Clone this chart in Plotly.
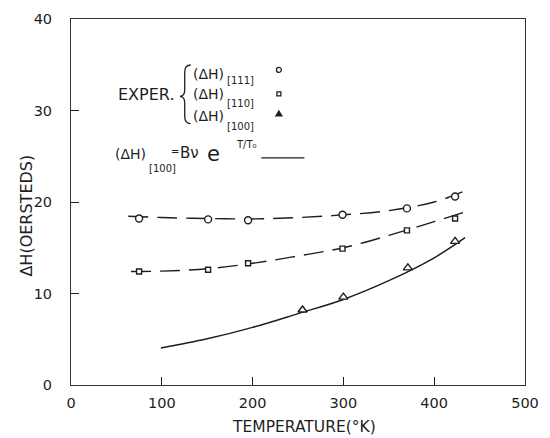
import plotly.graph_objects as go

# ---- data ----
T_pts = [75, 151, 195, 299, 370, 423]
dH_111 = [18.2, 18.1, 18.0, 18.6, 19.3, 20.6]
dH_110 = [12.4, 12.6, 13.3, 14.9, 16.9, 18.2]
T_100 = [255, 300, 371, 423]
dH_100 = [8.2, 9.6, 12.8, 15.7]

T_fit111 = [63, 100, 150, 200, 250, 300, 350, 400, 431]
fit111 = [18.45, 18.3, 18.2, 18.15, 18.3, 18.6, 19.05, 20.0, 21.1]
T_fit110 = [66, 100, 150, 200, 250, 300, 350, 400, 440]
fit110 = [12.4, 12.45, 12.7, 13.3, 14.1, 15.0, 16.35, 17.85, 19.1]
T_fit100 = [99, 150, 200, 250, 300, 350, 400, 434]
fit100 = [4.05, 5.05, 6.3, 7.8, 9.35, 11.4, 13.9, 16.1]

x_ticks = [0, 100, 200, 300, 400, 500]
y_ticks = [0, 10, 20, 30, 40]

INK = "#1e1e1e"
FONT = "DejaVu Sans"

# plot area in pixels (for placing decorations)
L, R, T, B = 71, 534, 11, 385
W, H = 550, 438


def px(x):
    return (x - L) / (R - L)


def py(y):
    return (B - y) / (B - T)


fig = go.Figure()

dash = "20px,9px"
fig.add_trace(go.Scatter(x=T_fit111, y=fit111, mode="lines",
                         line=dict(color=INK, width=1.4, dash=dash, shape="spline"),
                         hoverinfo="skip"))
fig.add_trace(go.Scatter(x=T_fit110, y=fit110, mode="lines",
                         line=dict(color=INK, width=1.4, dash=dash, shape="spline"),
                         hoverinfo="skip"))
fig.add_trace(go.Scatter(x=T_fit100, y=fit100, mode="lines",
                         line=dict(color=INK, width=1.5, shape="spline"),
                         hoverinfo="skip"))

fig.add_trace(go.Scatter(x=T_pts, y=dH_111, mode="markers",
                         marker=dict(symbol="circle", size=7, color="white",
                                     line=dict(color=INK, width=1.4))))
fig.add_trace(go.Scatter(x=T_pts, y=dH_110, mode="markers",
                         marker=dict(symbol="square", size=5, color="white",
                                     line=dict(color=INK, width=1.4))))
fig.add_trace(go.Scatter(x=T_100, y=dH_100, mode="markers",
                         marker=dict(symbol="triangle-up", size=8, color="white",
                                     line=dict(color=INK, width=1.4))))

ann = []


def text(t, x, y, size=14, xanchor="left", angle=0):
    ann.append(dict(text=t, x=px(x), y=py(y), xref="paper", yref="paper",
                    xanchor=xanchor, yanchor="middle", showarrow=False,
                    textangle=angle, font=dict(family=FONT, size=size, color=INK)))


# legend block
text("EXPER.", 117, 88, 16)
rows = [(67, 74, "[111]"), (88, 97, "[110]"), (110, 121, "[100]")]
for yr, ys, sub in rows:
    text("(ΔH)", 193, yr, 14)
    text(sub, 228, ys, 10)

# formula
text("(ΔH)", 114, 149, 14)
text("[100]", 148, 164, 10)
text("=", 171, 146, 10)
text("Bν", 180, 148, 15)
text("e", 208, 149, 21)
text("T/T₀", 237, 139, 10)

# axis titles
text("TEMPERATURE(°K)", 309, 428, 15.5, xanchor="center")
text("ΔH(OERSTEDS)", 26, 212, 16, xanchor="center", angle=-90)

shapes = []


def P(x, y):
    return f"{px(x)},{py(y)}"


# brace
brace = (f"M {P(193,58)} Q {P(187,58)} {P(187,65)} L {P(187,83)} "
         f"Q {P(187,90)} {P(182,90)} Q {P(187,90)} {P(187,97)} L {P(187,111)} "
         f"Q {P(187,118)} {P(193,118)}")
shapes.append(dict(type="path", path=brace, xref="paper", yref="paper",
                   line=dict(color=INK, width=1.3)))
# legend symbols
shapes.append(dict(type="circle", xref="paper", yref="paper",
                   x0=px(280.5), x1=px(285.5), y0=py(60.5), y1=py(65.5),
                   line=dict(color=INK, width=1.3)))
shapes.append(dict(type="rect", xref="paper", yref="paper",
                   x0=px(281), x1=px(285), y0=py(85.5), y1=py(89.5),
                   line=dict(color=INK, width=1.3)))
shapes.append(dict(type="path", xref="paper", yref="paper",
                   path=f"M {P(280,110)} L {P(286,110)} L {P(283,105)} Z",
                   line=dict(color=INK, width=1.3), fillcolor=INK))
# legend line sample
shapes.append(dict(type="line", xref="paper", yref="paper",
                   x0=px(265), x1=px(309), y0=py(153), y1=py(153),
                   line=dict(color=INK, width=1.3)))

fig.update_layout(
    width=W, height=H,
    margin=dict(l=L, r=W - R, t=T, b=H - B),
    paper_bgcolor="white", plot_bgcolor="white",
    showlegend=False,
    annotations=ann, shapes=shapes,
    font=dict(family=FONT, size=14, color=INK),
)
fig.update_xaxes(range=[0, 500], tickvals=x_ticks, ticks="inside", ticklen=8,
                 tickcolor=INK, showgrid=False, zeroline=False,
                 showline=True, linecolor="#333", linewidth=1, mirror=True,
                 tickfont=dict(family=FONT, size=14.5, color=INK),
                 ticklabelstandoff=5)
fig.update_yaxes(range=[0, 40], tickvals=y_ticks, ticks="inside", ticklen=8,
                 tickcolor=INK, showgrid=False, zeroline=False,
                 showline=True, linecolor="#333", linewidth=1, mirror=True,
                 tickfont=dict(family=FONT, size=14.5, color=INK),
                 ticklabelstandoff=15)

fig.write_html("out.html")
